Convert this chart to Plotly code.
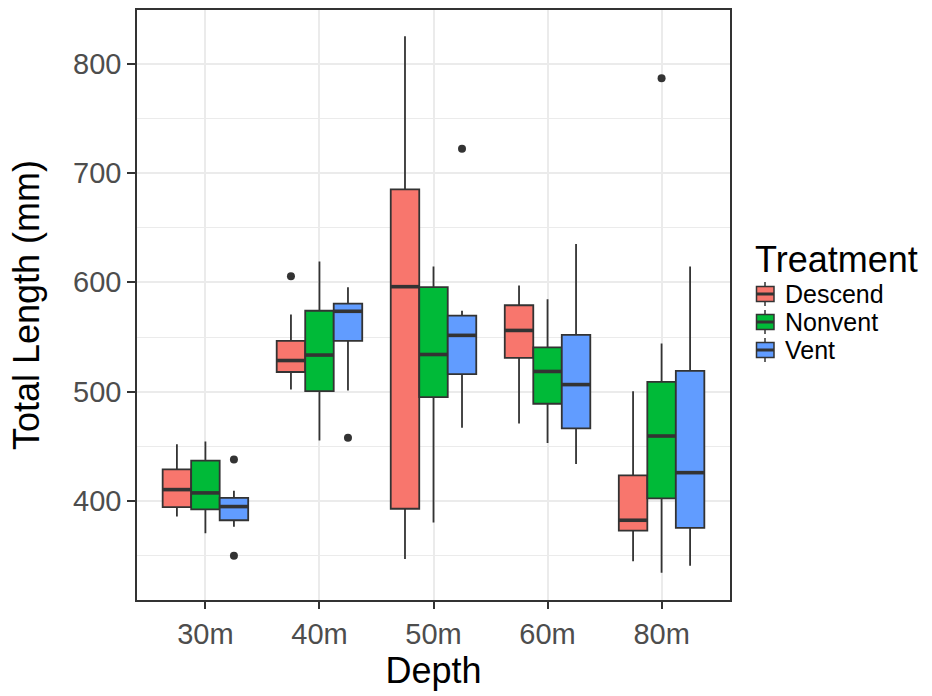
import plotly.graph_objects as go

# ---------------- data ----------------
depths = ["30m", "40m", "50m", "60m", "80m"]
treatments = ["Descend", "Nonvent", "Vent"]
colors = ["#F8766D", "#00BA38", "#619CFF"]

descend_low = [386, 502, 347, 471, 345]
descend_q1 = [394.5, 518, 393, 531, 373]
descend_med = [410.5, 528.5, 596, 556, 382.5]
descend_q3 = [429, 546.5, 685, 579, 423.5]
descend_up = [452, 570.5, 825, 597, 500.5]
descend_out_x = ["40m"]
descend_out_y = [605.5]

nonvent_low = [370.5, 455.5, 380.5, 453, 334.5]
nonvent_q1 = [392.5, 500.5, 495, 489, 402.5]
nonvent_med = [407.5, 533.5, 534, 518.5, 459.5]
nonvent_q3 = [437, 574, 595.5, 540.5, 509]
nonvent_up = [454.5, 619, 614.5, 584.5, 544]
nonvent_out_x = ["80m"]
nonvent_out_y = [786.5]

vent_low = [376.5, 501, 467, 434, 341]
vent_q1 = [382.5, 546.5, 516, 466.5, 375.5]
vent_med = [395, 573.5, 551.5, 506.5, 426]
vent_q3 = [403, 580.5, 569.5, 552, 519]
vent_up = [409.5, 595.5, 574, 635, 614.5]
vent_out_x = ["30m", "30m", "40m", "50m"]
vent_out_y = [438, 350, 458, 722]

y_ticks = [400, 500, 600, 700, 800]

stats = [
    (descend_low, descend_q1, descend_med, descend_q3, descend_up, descend_out_x, descend_out_y),
    (nonvent_low, nonvent_q1, nonvent_med, nonvent_q3, nonvent_up, nonvent_out_x, nonvent_out_y),
    (vent_low, vent_q1, vent_med, vent_q3, vent_up, vent_out_x, vent_out_y),
]

# ---------------- figure ----------------
DODGE = 0.75
BW = DODGE / len(treatments)
LINE = "#333333"
pos = {d: i + 1 for i, d in enumerate(depths)}

fig = go.Figure()
for j, (name, col, st) in enumerate(zip(treatments, colors, stats)):
    low, q1, med, q3, up, ox, oy = st
    off = (j - 1) * BW
    xs = [pos[d] + off for d in depths]
    fig.add_trace(go.Box(
        name=name, x=xs, q1=q1, median=med, q3=q3,
        lowerfence=low, upperfence=up, width=BW,
        boxpoints=False, whiskerwidth=0,
        fillcolor=col, line=dict(color=LINE, width=1.8),
        showlegend=False, hoverinfo="skip",
    ))
    # thicker median bar (ggplot fatten)
    mx, my = [], []
    for x, m in zip(xs, med):
        mx += [x - BW / 2, x + BW / 2, None]
        my += [m, m, None]
    fig.add_trace(go.Scatter(x=mx, y=my, mode="lines",
                             line=dict(color=LINE, width=3.6),
                             showlegend=False, hoverinfo="skip"))
    # outliers
    fig.add_trace(go.Scatter(x=[pos[d] + off for d in ox], y=oy, mode="markers",
                             marker=dict(color=LINE, size=8),
                             showlegend=False, hoverinfo="skip"))

L, R, T, B = 137, 730, 10, 600
W, H = 932, 696

fig.update_layout(
    width=W, height=H,
    margin=dict(l=L, r=W - R, t=T, b=H - B, autoexpand=False),
    plot_bgcolor="white", paper_bgcolor="white",
    font=dict(family="Liberation Sans, Arial, sans-serif", color="black"),
    boxmode="overlay",
)

fig.update_xaxes(
    range=[0.4, 5.6], tickmode="array", tickvals=[pos[d] for d in depths], ticktext=depths,
    showgrid=True, gridcolor="#EBEBEB", gridwidth=1.6, zeroline=False,
    showline=True, linecolor=LINE, linewidth=1.5, mirror=True,
    ticks="outside", ticklen=7, tickcolor=LINE, tickwidth=1.5,
    tickfont=dict(size=29, color="#4D4D4D"),
    title=dict(text="Depth", font=dict(size=36, color="black"), standoff=4),
    automargin=False,
)
fig.update_yaxes(
    range=[309.6, 848.9], tickmode="array", tickvals=y_ticks,
    showgrid=True, gridcolor="#EBEBEB", gridwidth=1.6, zeroline=False,
    minor=dict(dtick=50, tick0=0, showgrid=True, gridcolor="#EBEBEB", gridwidth=1.0, ticks=""),
    showline=True, linecolor=LINE, linewidth=1.5, mirror=True,
    ticks="outside", ticklen=8, tickcolor=LINE, tickwidth=1.5,
    tickfont=dict(size=29, color="#4D4D4D"),
    title=dict(text="Total Length (mm)", font=dict(size=36, color="black"), standoff=22),
    automargin=False,
)

# ---------------- manual legend (ggplot-style) ----------------
def px(x):
    return (x - L) / (R - L)

def py(y):
    return (B - y) / (B - T)

fig.add_annotation(x=px(753), y=py(259), xref="paper", yref="paper", text="Treatment",
                   showarrow=False, xanchor="left", yanchor="middle",
                   font=dict(size=36, color="black"))
row_y = [294, 322, 350]
for name, col, yc in zip(treatments, colors, row_y):
    fig.add_annotation(x=px(783), y=py(yc), xref="paper", yref="paper", text=name,
                       showarrow=False, xanchor="left", yanchor="middle",
                       font=dict(size=25, color="black"))
    fig.add_shape(type="line", xref="paper", yref="paper",
                  x0=px(765), x1=px(765), y0=py(yc - 12), y1=py(yc + 12),
                  line=dict(color=LINE, width=1.5))
    fig.add_shape(type="rect", xref="paper", yref="paper",
                  x0=px(756.5), x1=px(774), y0=py(yc - 7.5), y1=py(yc + 7.5),
                  fillcolor=col, line=dict(color=LINE, width=1.5))
    fig.add_shape(type="line", xref="paper", yref="paper",
                  x0=px(756.5), x1=px(774), y0=py(yc), y1=py(yc),
                  line=dict(color=LINE, width=3))

fig.write_html("out.html")
